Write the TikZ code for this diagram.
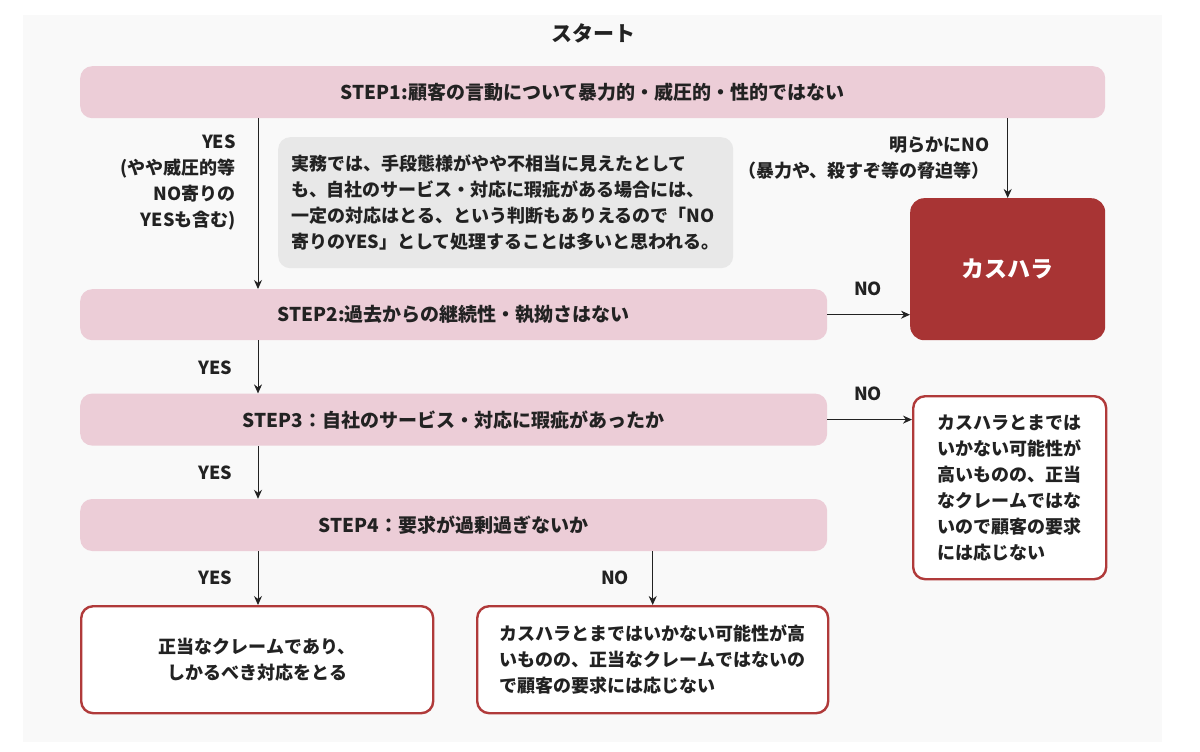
\documentclass[tikz,border=0pt]{standalone}
\usepackage{fontspec}
\usepackage{xcolor}
\setmainfont{Noto Sans CJK JP}
\usetikzlibrary{arrows.meta, positioning}

\definecolor{bgGray}{RGB}{249,249,249}
\definecolor{stepPink}{RGB}{236,205,215}
\definecolor{noteGray}{RGB}{232,232,232}
\definecolor{harassRed}{RGB}{168,52,52}
\definecolor{frameRed}{RGB}{176,58,58}
\definecolor{inkBlack}{RGB}{34,34,34}

\begin{document}
\begin{tikzpicture}[
    x=1pt, y=-1pt,
    font=\bfseries\fontsize{18}{26}\selectfont, text=inkBlack,
    stepbox/.style={rectangle, rounded corners=12pt, fill=stepPink, minimum width=747pt, minimum height=52pt, anchor=north west, inner sep=0pt, font=\bfseries\fontsize{19}{26}\selectfont},
    notebox/.style={rectangle, rounded corners=12pt, fill=noteGray, align=left, anchor=north west, inner sep=0pt},
    harassbox/.style={rectangle, rounded corners=14pt, fill=harassRed, text=white, anchor=north west, inner sep=0pt},
    resultbox/.style={rectangle, rounded corners=12pt, draw=frameRed, line width=2.4pt, fill=white, anchor=north west, inner sep=0pt},
    tag/.style={font=\bfseries\fontsize{18}{26}\selectfont, inner sep=0pt},
    arrow/.style={-{Stealth[length=9pt, width=8pt]}, line width=1pt, draw=inkBlack}
]

% Canvas
\useasboundingbox (0,0) rectangle (1200,752);
\fill[bgGray] (23,15) rectangle (1162,742);

% Start
\node[font=\bfseries\fontsize{21}{26}\selectfont] (start) at (593,33) {スタート};

% Steps
\node[stepbox, minimum width=1025pt] (step1) at (80,66) {STEP1:顧客の言動について暴力的・威圧的・性的ではない};
\node[stepbox, minimum height=51pt] (step2) at (80,289) {STEP2:過去からの継続性・執拗さはない};
\node[stepbox, below=53pt of step2.south west, anchor=north west] (step3) {STEP3：自社のサービス・対応に瑕疵があったか};
\node[stepbox, below=53pt of step3.south west, anchor=north west] (step4) {STEP4：要求が過剰過ぎないか};

% Note
\node[notebox, minimum width=455pt, minimum height=131pt] (note) at (278,137)
    {実務では、手段態様がやや不相当に見えたとして\\も、自社のサービス・対応に瑕疵がある場合には、\\一定の対応はとる、という判断もありえるので「NO\\寄りのYES」として処理することは多いと思われる。};

% Results
\node[harassbox, minimum width=195pt, minimum height=142pt, font=\bfseries\fontsize{23}{26}\selectfont] (kasuhara) at (910,198) {カスハラ};
\node[resultbox, minimum width=193pt, minimum height=183pt, align=left] (side) at (912,395)
    {カスハラとまでは\\いかない可能性が\\高いものの、正当\\なクレームではな\\いので顧客の要求\\には応じない};
\node[resultbox, minimum width=352pt, minimum height=107pt, align=center] (bottomL) at (80,605)
    {正当なクレームであり、\\しかるべき対応をとる};
\node[resultbox, minimum width=351pt, minimum height=107pt, align=left] (bottomR) at (476,605)
    {カスハラとまではいかない可能性が高\\いものの、正当なクレームではないの\\で顧客の要求には応じない};

% Arrows
\coordinate (trunk) at (258,0);
\draw[arrow] (trunk |- step1.south) -- (trunk |- step2.north);
\draw[arrow] (trunk |- step2.south) -- (trunk |- step3.north);
\draw[arrow] (trunk |- step3.south) -- (trunk |- step4.north);
\draw[arrow] (trunk |- step4.south) -- (trunk |- bottomL.north);
\draw[arrow] (kasuhara.north |- step1.south) -- (kasuhara.north);
\draw[arrow] (step2.east) -- (step2.east -| kasuhara.west);
\draw[arrow] (step3.east) -- (step3.east -| side.west);
\draw[arrow] (bottomR.north |- step4.south) -- (bottomR.north);

% Labels
\node[tag, align=right, anchor=east] (yes1) at (236,183) {YES\\(やや威圧的等\\NO寄りの\\YESも含む)};
\node[tag, align=right, anchor=east] (no1) at (990,158) {明らかにNO\\（暴力や、殺すぞ等の脅迫等）};
\node[tag] (no2) at (868,289) {NO};
\node[tag] (yes2) at (215,368) {YES};
\node[tag] (no3) at (868,394) {NO};
\node[tag] (yes3) at (215,473) {YES};
\node[tag] (yes4) at (215,578) {YES};
\node[tag] (no4) at (615,578) {NO};

\end{tikzpicture}
\end{document}
